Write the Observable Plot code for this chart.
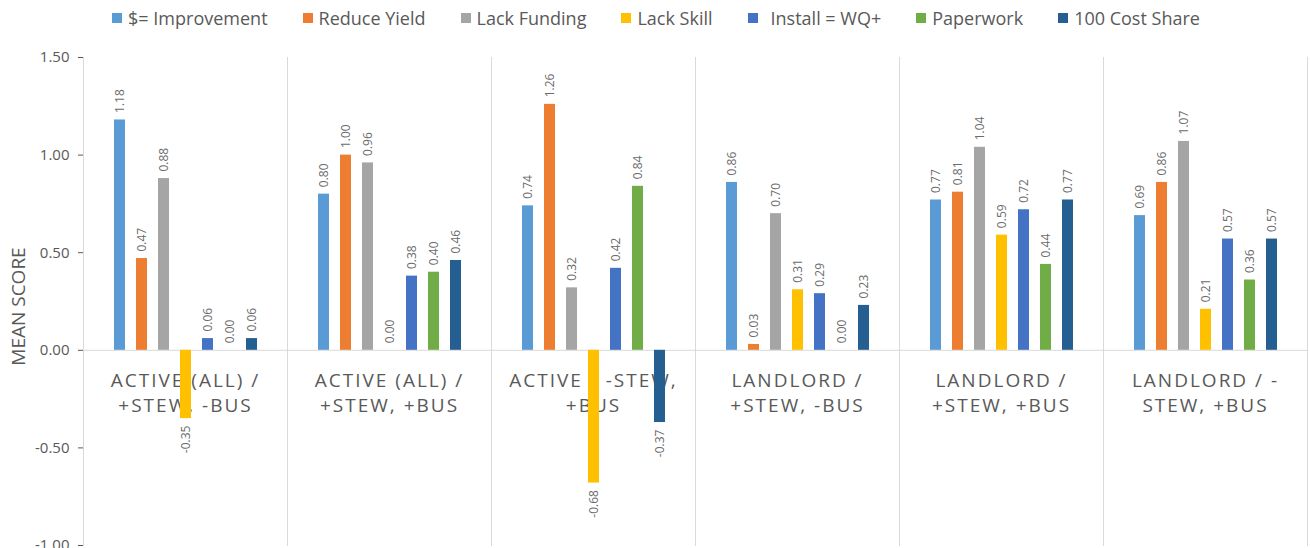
<!DOCTYPE html>
<html><head><meta charset="utf-8">
<script src="https://cdn.jsdelivr.net/npm/d3@7"></script>
<script src="https://cdn.jsdelivr.net/npm/@observablehq/plot@0.6"></script>
<style>
html,body{margin:0;padding:0;background:#fff;overflow:hidden;font-family:"Open Sans",sans-serif;}
#legend{display:flex;justify-content:center;height:36px;align-items:center;padding-left:2px;font-size:18px;color:#595959;white-space:nowrap;}
.item{display:flex;align-items:center;margin-right:35px;}
.item:last-child{margin-right:0;}
.sw{width:10px;height:10px;margin-right:6px;flex:none;}
.item.wide .sw{margin-right:13px;}
</style></head><body>
<div id="legend"></div><div id="chart"></div>
<script>
const groups = ["g1","g2","g3","g4","g5","g6"];
const groupLabels = [
  "ACTIVE (ALL) /\n+STEW, -BUS",
  "ACTIVE (ALL) /\n+STEW, +BUS",
  "ACTIVE / -STEW,\n+BUS",
  "LANDLORD /\n+STEW, -BUS",
  "LANDLORD /\n+STEW, +BUS",
  "LANDLORD / -\nSTEW, +BUS"
];
const series = ["$= Improvement","Reduce Yield","Lack Funding","Lack Skill","Install = WQ+","Paperwork","100 Cost Share"];
const colors = ["#5B9BD5","#ED7D31","#A5A5A5","#FFC000","#4472C4","#70AD47","#255E91"];
const improvement = [1.18, 0.80, 0.74, 0.86, 0.77, 0.69];
const reduceYield = [0.47, 1.00, 1.26, 0.03, 0.81, 0.86];
const lackFunding = [0.88, 0.96, 0.32, 0.70, 1.04, 1.07];
const lackSkill   = [-0.35, 0.00, -0.68, 0.31, 0.59, 0.21];
const installWQ   = [0.06, 0.38, 0.42, 0.29, 0.72, 0.57];
const paperwork   = [0.00, 0.40, 0.84, 0.00, 0.44, 0.36];
const costShare   = [0.06, 0.46, -0.37, 0.23, 0.77, 0.57];
const yTicks = [-1, -0.5, 0, 0.5, 1, 1.5];

const seriesValues = [improvement, reduceYield, lackFunding, lackSkill, installWQ, paperwork, costShare];
const data = [];
groups.forEach((g, j) => series.forEach((s, i) => data.push({group: g, series: s, value: seriesValues[i][j]})));
const catData = groups.map((g, i) => ({group: g, label: groupLabels[i]}));

// legend
const leg = document.getElementById("legend");
series.forEach((s, i) => {
  const it = document.createElement("div"); it.className = "item" + (s.startsWith("Install") ? " wide" : "");
  const sw = document.createElement("div"); sw.className = "sw"; sw.style.background = colors[i];
  const tx = document.createElement("span"); tx.textContent = s;
  it.appendChild(sw); it.appendChild(tx); leg.appendChild(it);
});

const grid = "#d9d9d9";
const chart = Plot.plot({
  width: 1310,
  height: 539,
  marginTop: 21,
  marginBottom: 30,
  marginLeft: 82,
  marginRight: 3,
  style: {fontFamily: "Open Sans, sans-serif", fontSize: "15px", color: "#595959", background: "#fff"},
  fx: {domain: groups, padding: 0, axis: null},
  x: {domain: series, paddingInner: 0.5, paddingOuter: 1.22, axis: null},
  y: {domain: [-1, 1.5], ticks: yTicks, tickFormat: d => d.toFixed(2), tickSize: 5, tickPadding: 9, label: null},
  color: {domain: series, range: colors},
  marks: [
    Plot.frame({anchor: "left", stroke: grid}),
    Plot.frame({anchor: "right", stroke: grid}),
    Plot.ruleY([0], {stroke: grid}),
    Plot.text(catData, {fx: "group", y: () => 0, text: "label", frameAnchor: "middle", lineAnchor: "top", dy: 19, lineHeight: 1.3, fontSize: 19, fill: "#595959"}),
    Plot.barY(data, {fx: "group", x: "series", y: "value", fill: "series"}),
    Plot.text(data.filter(d => d.value >= 0), {fx: "group", x: "series", y: "value", text: d => d.value.toFixed(2), rotate: -90, textAnchor: "start", dy: -7, fontSize: 12, fill: "#6b6b6b"}),
    Plot.text(data.filter(d => d.value < 0), {fx: "group", x: "series", y: "value", text: d => d.value.toFixed(2), rotate: -90, textAnchor: "end", dy: 7, fontSize: 12, fill: "#6b6b6b"}),
    Plot.text([groups[0]], {fx: d => d, text: () => "MEAN SCORE", frameAnchor: "left", textAnchor: "middle", rotate: -90, dx: -65, dy: 5, fontSize: 19, fill: "#595959"})
  ]
});
d3.select(chart).selectAll("text").filter(function() { return /BUS/.test(this.textContent); }).style("letter-spacing", "2px");
d3.select(chart).selectAll('g[aria-label="y-axis tick"]').attr("stroke", grid);
document.getElementById("chart").appendChild(chart);
</script>
</body></html>
